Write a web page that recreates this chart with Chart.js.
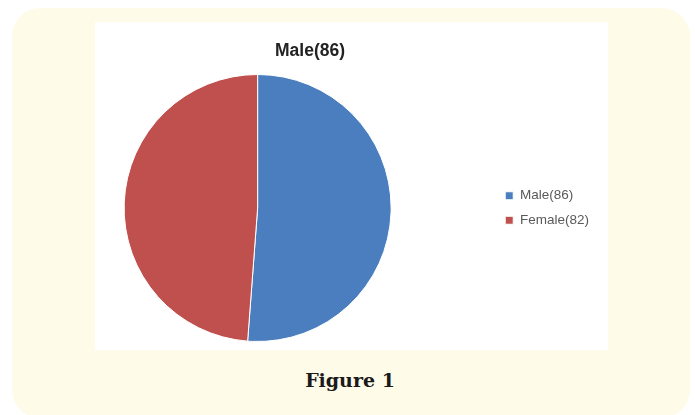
<!DOCTYPE html>
<html>
<head>
<meta charset="utf-8">
<script src="https://cdn.jsdelivr.net/npm/chart.js@4"></script>
<style>
  html, body { margin: 0; padding: 0; background: #ffffff; }
  body { width: 695px; height: 415px; position: relative; overflow: hidden; }
  #frame {
    position: absolute; left: 12px; top: 8px; width: 678px; height: 410px;
    background: #fffbe9; border-radius: 28px;
  }
  #plot {
    position: absolute; left: 95px; top: 22px; width: 513px; height: 328px;
    background: #ffffff;
  }
  #wrap { position: absolute; left: 20px; top: 22px; width: 580px; height: 328px; }
  #caption {
    position: absolute; left: 0; top: 369px; width: 700px; text-align: center;
    font: bold 19px "DejaVu Serif", serif; color: #1a1a1a;
  }
</style>
</head>
<body>
<div id="frame"></div>
<div id="plot"></div>
<div id="wrap"><canvas id="pieChart" width="580" height="328"></canvas></div>
<div id="caption">Figure 1</div>
<script>
const labels = ['Male(86)', 'Female(82)'];
const counts = [86, 82];
const colors = ['#4a7ebf', '#c0504d'];
const chartTitle = 'Male(86)';

const ctx = document.getElementById('pieChart').getContext('2d');
new Chart(ctx, {
  type: 'pie',
  data: {
    labels,
    datasets: [{
      data: counts,
      backgroundColor: colors,
      borderColor: '#ffffff',
      borderWidth: 1
    }]
  },
  options: {
    responsive: false,
    animation: false,
    layout: { padding: { left: 1, right: 1, top: 0, bottom: 8 } },
    plugins: {
      tooltip: { enabled: false },
      title: {
        display: true,
        text: chartTitle,
        color: '#222222',
        font: { family: 'Liberation Sans', size: 17.5, weight: 'bold' },
        padding: { top: 19, bottom: 12 }
      },
      legend: {
        position: 'right',
        fullSize: false,
        labels: {
          boxWidth: 8,
          boxHeight: 8,
          padding: 11,
          color: '#595959',
          font: { family: 'Liberation Sans', size: 13.5 }
        }
      }
    }
  }
});
</script>
</body>
</html>
